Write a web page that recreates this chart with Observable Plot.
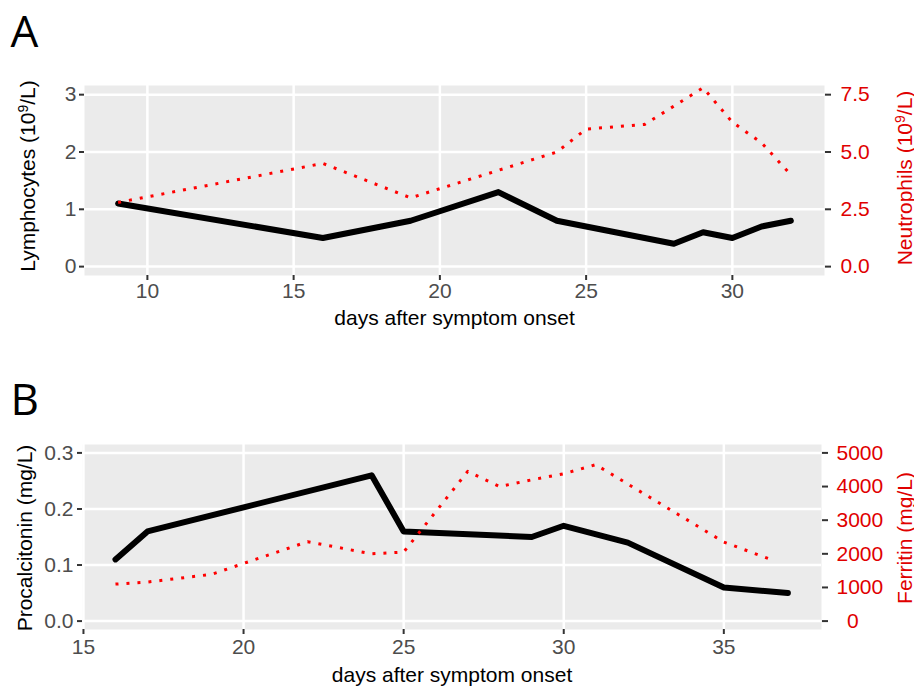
<!DOCTYPE html>
<html>
<head>
<meta charset="utf-8">
<script src="https://cdn.jsdelivr.net/npm/d3@7"></script>
<script src="https://cdn.jsdelivr.net/npm/@observablehq/plot@0.6"></script>
<style>
  html, body { margin: 0; padding: 0; background: white; }
  #root { position: relative; width: 914px; height: 690px; overflow: hidden; background: white; }
  #root svg { position: absolute; left: 0; }
  .ytitle { position: absolute; white-space: nowrap; font-family: 'Liberation Sans', Arial, sans-serif; font-size: 21px; line-height: 21px;
            transform: translate(-50%, -50%) rotate(-90deg); }
  .ytitle sup { font-size: 14px; vertical-align: 7px; line-height: 0; }
</style>
</head>
<body>
<div id="root"></div>
<script>
// ---- Panel A data ----
const lymphDays = [9, 16, 19, 22, 24, 28, 29, 30, 31, 32];
const lymphVals = [1.1, 0.5, 0.8, 1.3, 0.8, 0.4, 0.6, 0.5, 0.7, 0.8];
const neutDays = [9, 16, 19, 24, 25, 27, 29, 30, 31, 32];
const neutVals = [2.8, 4.5, 3.0, 5.0, 6.0, 6.2, 7.8, 6.3, 5.4, 4.0];
const xTicksA = [10, 15, 20, 25, 30];
const lymphTicks = [0, 1, 2, 3];
const neutTicks = [0, 2.5, 5, 7.5];
const neutRatio = 2.5; // secondary axis: neutrophils = 2.5 x lymphocyte axis

// ---- Panel B data ----
const pctDays = [16, 17, 24, 25, 29, 30, 32, 35, 37];
const pctVals = [0.11, 0.16, 0.26, 0.16, 0.15, 0.17, 0.14, 0.06, 0.05];
const ferDays = [16, 17, 19, 22, 24, 25, 27, 28, 29, 30, 31, 35, 36.5];
const ferVals = [1100, 1160, 1390, 2360, 2000, 2050, 4450, 4000, 4200, 4380, 4650, 2350, 1820];
const xTicksB = [15, 20, 25, 30, 35];
const pctTicks = [0, 0.1, 0.2, 0.3];
const ferTicks = [0, 1000, 2000, 3000, 4000, 5000];
const ferRatio = 0.3 / 5000; // secondary axis scaling

const lymph = lymphDays.map((d, i) => ({day: d, v: lymphVals[i]}));
const neut = neutDays.map((d, i) => ({day: d, v: neutVals[i]}));
const pct = pctDays.map((d, i) => ({day: d, v: pctVals[i]}));
const fer = ferDays.map((d, i) => ({day: d, v: ferVals[i]}));

const font = "'Liberation Sans', Arial, sans-serif";
const grid = {stroke: "white", strokeOpacity: 1, strokeWidth: 2.5};
const tickStyle = {stroke: "#333333", strokeWidth: 2, label: null};
const RED = "#E00000";
const panelLabel = (txt, dx, dy) => Plot.text([txt], {frameAnchor: "top-left", dx, dy, lineAnchor: "bottom",
  textAnchor: "start", fontSize: 44, fontFamily: "'Open Sans', sans-serif", fill: "black"});

const plotA = Plot.plot({
  width: 914, height: 345,
  marginTop: 85, marginBottom: 70, marginLeft: 84, marginRight: 90,
  style: {fontFamily: font, fontSize: "21px", background: "transparent"},
  x: {domain: [7.85, 33.15]},
  y: {domain: [-0.155, 3.16]},
  marks: [
    Plot.frame({fill: "#EBEBEB", stroke: null}),
    Plot.gridX({ticks: xTicksA, ...grid}),
    Plot.gridY({ticks: lymphTicks, ...grid}),
    Plot.axisX({ticks: xTicksA, tickSize: 5, tickPadding: 3, tickFormat: d => String(d), fill: "#4D4D4D", ...tickStyle}),
    Plot.axisY({ticks: lymphTicks, anchor: "left", tickSize: 5, tickPadding: 3, tickFormat: d => String(d), fill: "#4D4D4D", ...tickStyle}),
    Plot.axisY({ticks: neutTicks.map(t => t / neutRatio), anchor: "right", tickSize: 6, tickPadding: 10,
      tickFormat: d => (d * neutRatio).toFixed(1), fill: RED, ...tickStyle}),
    Plot.line(lymph, {x: "day", y: "v", stroke: "black", strokeWidth: 6}),
    Plot.line(neut, {x: "day", y: d => d.v / neutRatio, stroke: "red", strokeWidth: 3,
      strokeDasharray: "3,8", strokeLinecap: "butt"}),
    Plot.text(["days after symptom onset"], {frameAnchor: "bottom", dy: 43, lineAnchor: "middle", fill: "black"}),
    panelLabel("A", -74, -39)
  ]
});

const plotB = Plot.plot({
  width: 914, height: 345,
  marginTop: 99, marginBottom: 61, marginLeft: 82, marginRight: 93,
  style: {fontFamily: font, fontSize: "21px", background: "transparent"},
  x: {domain: [14.97, 38.05]},
  y: {domain: [-0.015, 0.315]},
  marks: [
    Plot.frame({fill: "#EBEBEB", stroke: null}),
    Plot.gridX({ticks: xTicksB, ...grid}),
    Plot.gridY({ticks: pctTicks, ...grid}),
    Plot.axisX({ticks: xTicksB, tickSize: 5, tickPadding: 5, tickFormat: d => String(d), fill: "#4D4D4D", ...tickStyle}),
    Plot.axisY({ticks: pctTicks, anchor: "left", tickSize: 5, tickPadding: 4, tickFormat: d => d.toFixed(1), fill: "#4D4D4D", ...tickStyle}),
    Plot.axisY({ticks: ferTicks.map(t => t * ferRatio), anchor: "right", tickSize: 6, tickPadding: 9,
      tickFormat: d => { const f = Math.round(d / ferRatio); return f === 0 ? "\u2002" + f : String(f); },
      fill: RED, ...tickStyle}),
    Plot.line(pct, {x: "day", y: "v", stroke: "black", strokeWidth: 6}),
    Plot.line(fer, {x: "day", y: d => d.v * ferRatio, stroke: "red", strokeWidth: 3,
      strokeDasharray: "3,8", strokeLinecap: "butt"}),
    Plot.text(["days after symptom onset"], {frameAnchor: "bottom", dy: 46, lineAnchor: "middle", fill: "black"}),
    panelLabel("B", -72, -30)
  ]
});

const root = document.getElementById("root");
plotA.style.top = "0px";
plotB.style.top = "345px";
root.appendChild(plotA);
root.appendChild(plotB);

function addDiv(cls, html, left, top, color) {
  const el = document.createElement("div");
  el.className = cls;
  el.innerHTML = html;
  el.style.left = left + "px";
  el.style.top = top + "px";
  if (color) el.style.color = color;
  root.appendChild(el);
  return el;
}
addDiv("ytitle", "Lymphocytes (10<sup>9</sup>/L)", 27, 176, "black");
addDiv("ytitle", "Neutrophils (10<sup>9</sup>/L)", 904, 178, RED);
addDiv("ytitle", "Procalcitonin (mg/L)", 24, 538, "black");
addDiv("ytitle", "Ferritin (mg/L)", 904, 538, RED);
</script>
</body>
</html>
